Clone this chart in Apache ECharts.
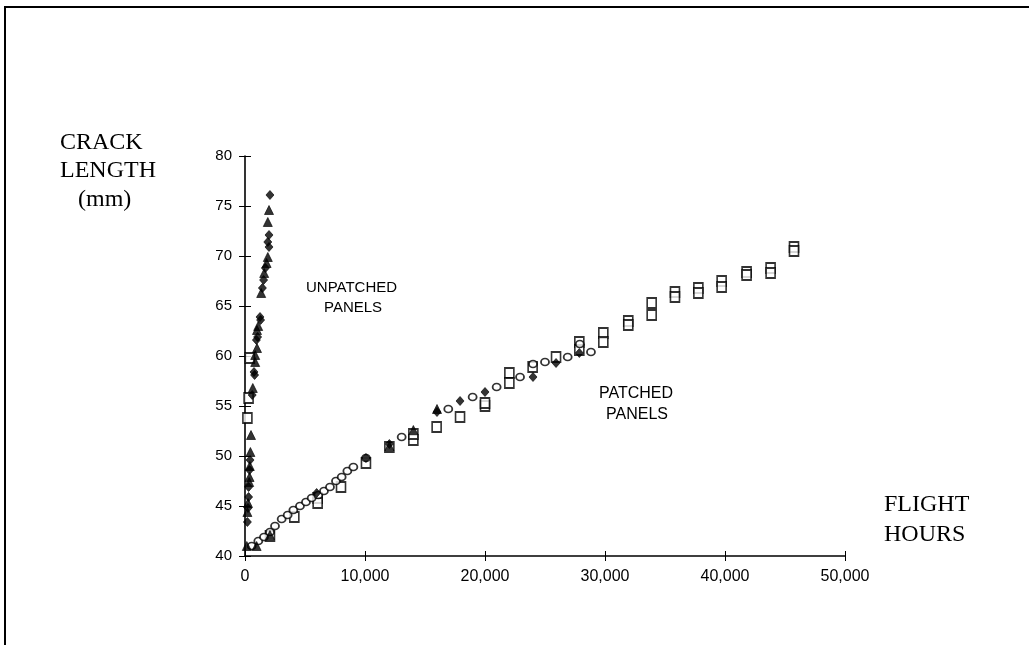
<!DOCTYPE html>
<html>
<head>
<meta charset="utf-8">
<script src="https://cdn.jsdelivr.net/npm/echarts@6/dist/echarts.min.js"></script>
<style>html,body{margin:0;padding:0;background:#fff}#c{width:1029px;height:645px}</style>
</head>
<body>
<div id="c"></div>
<script>
// ---- data (flight hours, crack length mm) ----
var unpatchedTriangles = [
  [2000,74.6],[1900,73.4],[1900,69.9],[1800,69.3],[1600,68.3],[1350,66.3],[1100,63.0],[1000,62.6],
  [1000,60.8],[850,60.1],[850,59.4],[650,56.8],[500,52.1],[450,50.4],[400,49.0],[380,47.9],
  [350,47.4],[250,45.3],[200,44.4],[150,41.0]
];
var unpatchedDiamonds = [
  [2080,76.1],[2000,72.1],[1900,71.4],[2000,70.9],[1700,68.8],[1550,67.6],[1450,66.8],[1250,63.9],
  [1300,63.6],[1050,61.9],[950,61.6],[750,58.4],[800,58.1],[600,56.1],[420,49.6],[380,48.6],
  [300,46.9],[300,45.9],[250,44.8],[200,43.4]
];
var patchedCircles = [
  [555,41.0],[1110,41.5],[1580,41.9],[2080,42.4],[2500,43.0],[3055,43.7],[3555,44.1],[4030,44.6],
  [4580,45.0],[5080,45.4],[5555,45.8],[6110,46.1],[6580,46.5],[7080,46.9],[7580,47.5],[8055,47.9],
  [8530,48.5],[9030,48.9],[10080,49.8],[13055,51.9],[16940,54.7],[18970,55.9],[20970,56.9],
  [22920,57.9],[24000,59.2],[25000,59.4],[26890,59.9],[27900,61.2],[28830,60.4]
];
var squares = [
  [50,39.9],[200,53.8],[300,55.8],[400,59.8],
  [2080,42.0],[4110,43.9],[6055,45.8],[6055,45.3],[8000,46.9],[10080,49.3],[12030,50.9],
  [14030,51.6],[14030,52.2],[15970,52.9],[17920,53.9],[20000,55.0],[20000,55.3],[22030,58.3],
  [22030,57.3],[23970,58.9],[25920,59.9],[27860,61.4],[27860,60.6],[29860,62.3],[29860,61.4],
  [31940,63.5],[31940,63.1],[33890,65.3],[33890,64.1],[35830,66.4],[35830,65.9],[37780,66.8],
  [37780,66.3],[39720,67.5],[39720,66.9],[41800,68.4],[41800,68.1],[43800,68.8],[43800,68.3],
  [45750,70.9],[45750,70.5]
];
var patchedDiamonds = [
  [5970,46.3],[10080,49.8],[12030,51.2],[16000,54.4],[17920,55.5],[20000,56.4],[24000,57.9],
  [25920,59.3],[27860,60.3]
];
var patchedTriangles = [
  [970,41.0],[2080,42.1],[12030,51.0],[14030,52.6],[16000,54.7]
];
var xTicks = [0, 10000, 20000, 30000, 40000, 50000];
var yTicks = [40, 45, 50, 55, 60, 65, 70, 75, 80];

var chart = echarts.init(document.getElementById('c'));
var black = '#000';
var yFont = {fontFamily: 'Liberation Sans, Arial, sans-serif', fontSize: 15, color: black};
var xFont = {fontFamily: 'Liberation Sans, Arial, sans-serif', fontSize: 16, color: black};
function fmt(v){ return Number(v).toLocaleString('en-US'); }

var grid = {left: 245, right: 184, top: 156, bottom: 89};
var xBase = {type: 'value', min: xTicks[0], max: xTicks[xTicks.length-1], interval: xTicks[1]-xTicks[0],
  position: 'bottom', splitLine: {show: false}};
var yBase = {type: 'value', min: yTicks[0], max: yTicks[yTicks.length-1], interval: yTicks[1]-yTicks[0],
  position: 'left', splitLine: {show: false}};

function sym(shape, data, size, filled) {
  return {
    type: 'scatter', data: data, symbol: shape, symbolSize: size, silent: true,
    itemStyle: filled ? {color: black, borderColor: black, borderWidth: 0.8}
                      : {color: '#fff', borderColor: black, borderWidth: 1.7}
  };
}

var serif = '24px "Liberation Serif", "Times New Roman", serif';
var sans15 = '15px "Liberation Sans", Arial, sans-serif';
var sans16 = '16px "Liberation Sans", Arial, sans-serif';

chart.setOption({
  animation: false,
  backgroundColor: '#fff',
  grid: grid,
  xAxis: [
    Object.assign({}, xBase, {
      axisLine: {onZero: false, lineStyle: {color: black, width: 1.6}},
      axisTick: {inside: false, length: 5, lineStyle: {color: black, width: 1}},
      axisLabel: Object.assign({margin: 13, formatter: fmt}, xFont)
    }),
    Object.assign({}, xBase, {
      axisLine: {show: false, onZero: false},
      axisTick: {inside: true, length: 5, lineStyle: {color: black, width: 1}},
      axisLabel: {show: false}
    })
  ],
  yAxis: [
    Object.assign({}, yBase, {
      axisLine: {onZero: false, lineStyle: {color: black, width: 1.6}},
      axisTick: {inside: false, length: 6, lineStyle: {color: black, width: 1}},
      axisLabel: Object.assign({margin: 13}, yFont)
    }),
    Object.assign({}, yBase, {
      axisLine: {show: false, onZero: false},
      axisTick: {inside: true, length: 6, lineStyle: {color: black, width: 1}},
      axisLabel: {show: false}
    })
  ],
  series: [
    sym('rect', squares, [9, 10], false),
    sym('circle', patchedCircles, [8, 7], false),
    sym('triangle', unpatchedTriangles, [9, 9], true),
    sym('diamond', unpatchedDiamonds, [8, 9], true),
    sym('diamond', patchedDiamonds, [8, 9], true),
    sym('triangle', patchedTriangles, [9, 9], true)
  ],
  graphic: [
    {type: 'line', shape: {x1: 5, y1: 7, x2: 1029, y2: 7}, style: {stroke: black, lineWidth: 2}},
    {type: 'line', shape: {x1: 5, y1: 6, x2: 5, y2: 645}, style: {stroke: black, lineWidth: 2}},
    {type: 'text', left: 60, top: 131, style: {text: 'CRACK', font: serif, fill: black}},
    {type: 'text', left: 60, top: 159, style: {text: 'LENGTH', font: serif, fill: black}},
    {type: 'text', left: 78, top: 188, style: {text: '(mm)', font: serif, fill: black}},
    {type: 'text', left: 884, top: 493, style: {text: 'FLIGHT', font: serif, fill: black}},
    {type: 'text', left: 884, top: 523, style: {text: 'HOURS', font: serif, fill: black}},
    {type: 'text', left: 306, top: 280, style: {text: 'UNPATCHED', font: sans15, fill: black}},
    {type: 'text', left: 324, top: 300, style: {text: 'PANELS', font: sans15, fill: black}},
    {type: 'text', left: 599, top: 386, style: {text: 'PATCHED', font: sans16, fill: black}},
    {type: 'text', left: 606, top: 407, style: {text: 'PANELS', font: sans16, fill: black}}
  ]
});
</script>
</body>
</html>
